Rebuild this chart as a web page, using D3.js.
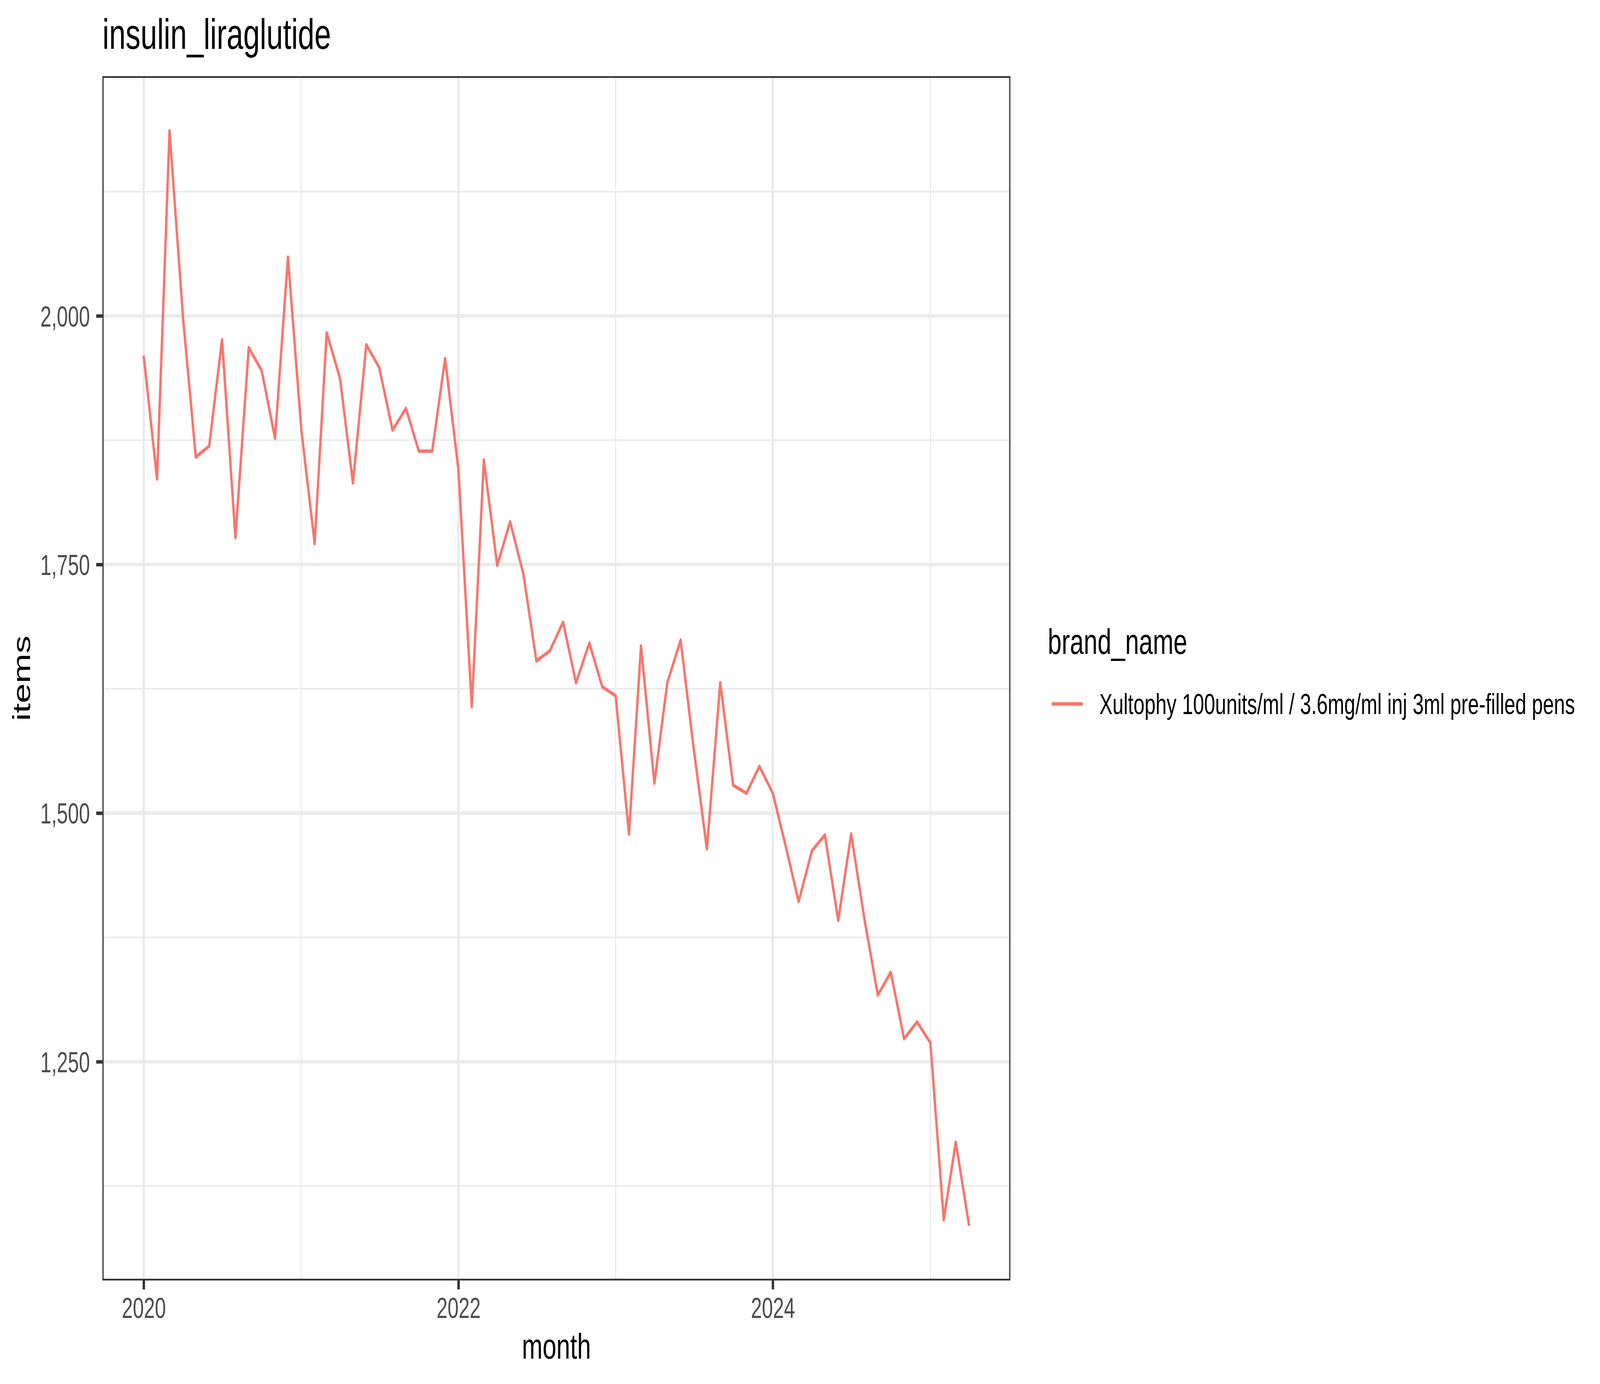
<!DOCTYPE html>
<html>
<head>
<meta charset="utf-8">
<script src="https://cdn.jsdelivr.net/npm/d3@7"></script>
<style>
  html, body { margin: 0; padding: 0; background: #fff; overflow: hidden; }
  #chart svg { display: block; width: 100vw; height: 100vh; }
  text { font-family: "Liberation Sans", Arial, Helvetica, sans-serif; }
</style>
</head>
<body>
<div id="chart"></div>
<script>
// monthly items, Jan 2020 .. Apr 2025
const startMonth = Date.UTC(2020, 0, 1);
const endMonth = Date.UTC(2025, 4, 1);
const items = [
  1960, 1836, 2186, 2000, 1858, 1869, 1976, 1777, 1968, 1945, 1877, 2059,
  1886, 1771, 1983, 1937, 1832, 1971, 1948, 1885, 1907, 1864, 1864, 1957,
  1845, 1607, 1855, 1749, 1793, 1740, 1653, 1663, 1692, 1631, 1671, 1627,
  1618, 1479, 1668, 1530, 1631, 1674, 1566, 1464, 1631, 1528, 1520, 1547,
  1520, 1465, 1411, 1462, 1478, 1392, 1479, 1393, 1317, 1340, 1273, 1290,
  1269, 1091, 1169, 1085
];
const yBreaks = [1250, 1500, 1750, 2000];
const yMinor = [1125, 1375, 1625, 1875, 2125];
const xBreakYears = [2020, 2022, 2024];
const xMinorYears = [2021, 2023, 2025];
const chartTitle = 'insulin_liraglutide';
const xTitle = 'month';
const yTitle = 'items';
const legendTitle = 'brand_name';
const seriesName = 'Xultophy 100units/ml / 3.6mg/ml inj 3ml pre-filled pens';

const months = d3.utcMonth.range(new Date(startMonth), new Date(endMonth));
const data = months.map((m, i) => ({ month: m, items: items[i] }));

// drawn in the reference's 5905x3543 frame, stretched to whatever the window is
const W = 5905, H = 3543;
const panel = { left: 378, right: 3729, top: 195, bottom: 3278 };
const lw = 8.9;          // 0.5mm at 600dpi
const grid = '#EBEBEB';
const dark = '#333333';

const svg = d3.select('#chart').append('svg')
  .attr('viewBox', `0 0 ${W} ${H}`)
  .attr('preserveAspectRatio', 'none');

svg.append('rect').attr('width', W).attr('height', H).attr('fill', '#fff');

// scales with 5% expansion like ggplot
const xExt = d3.extent(months, d => +d);
const xPad = (xExt[1] - xExt[0]) * 0.05;
const x = d3.scaleUtc()
  .domain([new Date(xExt[0] - xPad), new Date(xExt[1] + xPad)])
  .range([panel.left, panel.right]);

const yExt = d3.extent(items);
const yPad = (yExt[1] - yExt[0]) * 0.05;
const y = d3.scaleLinear()
  .domain([yExt[0] - yPad, yExt[1] + yPad])
  .range([panel.bottom, panel.top]);

const g = svg.append('g');
const yearX = yr => x(new Date(Date.UTC(yr, 0, 1)));

// minor grid
g.selectAll('.ygrid-minor').data(yMinor).enter().append('line')
  .attr('x1', panel.left).attr('x2', panel.right)
  .attr('y1', d => y(d)).attr('y2', d => y(d))
  .attr('stroke', grid).attr('stroke-width', lw / 2);
g.selectAll('.xgrid-minor').data(xMinorYears).enter().append('line')
  .attr('x1', yearX).attr('x2', yearX)
  .attr('y1', panel.top).attr('y2', panel.bottom)
  .attr('stroke', grid).attr('stroke-width', lw / 2);

// major grid
g.selectAll('.ygrid').data(yBreaks).enter().append('line')
  .attr('x1', panel.left).attr('x2', panel.right)
  .attr('y1', d => y(d)).attr('y2', d => y(d))
  .attr('stroke', grid).attr('stroke-width', lw);
g.selectAll('.xgrid').data(xBreakYears).enter().append('line')
  .attr('x1', yearX).attr('x2', yearX)
  .attr('y1', panel.top).attr('y2', panel.bottom)
  .attr('stroke', grid).attr('stroke-width', lw);

// the series
const line = d3.line()
  .x(d => x(d.month))
  .y(d => y(d.items));

g.append('path')
  .datum(data)
  .attr('fill', 'none')
  .attr('stroke', '#F8766D')
  .attr('stroke-width', lw)
  .attr('stroke-linejoin', 'round')
  .attr('d', line);

// panel border (only the inner half shows in ggplot)
g.append('rect')
  .attr('x', panel.left + lw / 4).attr('y', panel.top + lw / 4)
  .attr('width', panel.right - panel.left - lw / 2)
  .attr('height', panel.bottom - panel.top - lw / 2)
  .attr('fill', 'none').attr('stroke', dark).attr('stroke-width', lw / 2);

// axes
const yAxis = svg.append('g')
  .attr('transform', `translate(${panel.left},0)`)
  .call(d3.axisLeft(y).tickValues(yBreaks).tickFormat(d3.format(',')).tickSize(22.9).tickPadding(23));

const xAxis = svg.append('g')
  .attr('transform', `translate(0,${panel.bottom})`)
  .call(d3.axisBottom(x)
    .tickValues(xBreakYears.map(yr => new Date(Date.UTC(yr, 0, 1))))
    .tickFormat(d3.utcFormat('%Y'))
    .tickSize(22.9).tickPadding(21));

[yAxis, xAxis].forEach(ax => {
  ax.select('.domain').remove();
  ax.selectAll('.tick line').attr('stroke', dark).attr('stroke-width', lw);
  ax.selectAll('.tick text')
    .attr('fill', '#4D4D4D')
    .style('font-family', '"Liberation Sans", Arial, Helvetica, sans-serif')
    .style('font-size', '73.3px');
});
yAxis.selectAll('.tick text').attr('dy', '0.36em');

// titles
svg.append('text')
  .attr('x', panel.left).attr('y', 125)
  .style('font-size', '110px').attr('fill', '#000')
  .text(chartTitle);

svg.append('text')
  .attr('x', (panel.left + panel.right) / 2).attr('y', 3478)
  .attr('text-anchor', 'middle')
  .style('font-size', '91.7px').attr('fill', '#000')
  .text(xTitle);

svg.append('text')
  .attr('transform', `translate(111,${(panel.top + panel.bottom) / 2}) rotate(-90)`)
  .attr('text-anchor', 'middle')
  .style('font-size', '91.7px').attr('fill', '#000')
  .text(yTitle);

// legend
const legend = svg.append('g').attr('transform', 'translate(3867,0)');
legend.append('text')
  .attr('x', 0).attr('y', 1674)
  .style('font-size', '91.7px').attr('fill', '#000')
  .text(legendTitle);
legend.append('line')
  .attr('x1', 14.4).attr('x2', 129.6)
  .attr('y1', 1802).attr('y2', 1802)
  .attr('stroke', '#F8766D').attr('stroke-width', lw);
legend.append('text')
  .attr('x', 190).attr('y', 1828)
  .style('font-size', '73.3px').attr('fill', '#000')
  .text(seriesName);
</script>
</body>
</html>
